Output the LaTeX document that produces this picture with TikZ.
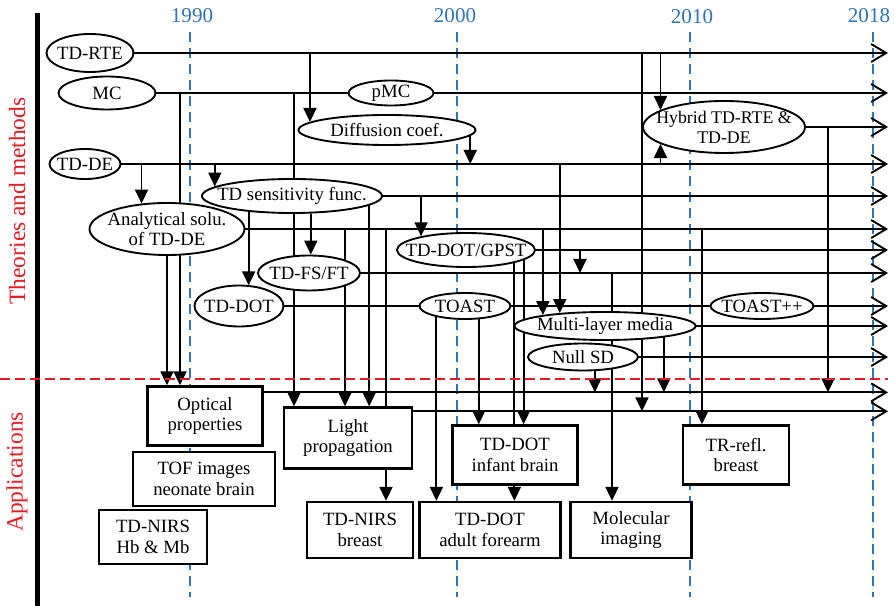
\documentclass[tikz,border=0pt]{standalone}
\usepackage{fontspec}
\setmainfont{Liberation Serif}
\usepackage{tikz}
\usetikzlibrary{arrows.meta,shapes.geometric,positioning}
\definecolor{yrblue}{RGB}{46,117,182}
\definecolor{thred}{RGB}{235,25,35}
\newcommand{\lblfont}{\fontsize{16}{17.5}\selectfont}
\pgfdeclarelayer{bg}
\pgfsetlayers{bg,main}
\tikzstyle{meth} = [ellipse, draw, fill=white, line width=1.6pt, inner xsep=-25mm, inner ysep=-10mm, align=center, font=\lblfont]
\tikzstyle{app} = [rectangle, draw, fill=white, line width=2pt, inner sep=1pt, align=center, font=\lblfont]
\tikzstyle{arr} = [line width=1.6pt, -{Triangle[length=4.2mm,width=3.9mm]}]
\tikzstyle{trend} = [line width=1.6pt, -{Straight Barb[length=4.5mm,width=5.4mm]}]
\tikzstyle{yline} = [yrblue, line width=1.1pt, dash pattern=on 3mm off 1.8mm]

\begin{document}
\begin{tikzpicture}[x=0.3mm, y=-0.3mm]
\useasboundingbox (0,0) rectangle (895,606);

% Time axis
\begin{pgfonlayer}{bg}
\foreach \x/\yr in {190/1990, 457/2000, 690/2010, 873/2018}
  \draw[yline] (\x,32) -- (\x,597);
\end{pgfonlayer}
\node[text=yrblue, font=\fontsize{18}{20}\selectfont] (yr1990) at (192,16) {1990};
\node[text=yrblue, font=\fontsize{18}{20}\selectfont] (yr2000) at (455,16) {2000};
\node[text=yrblue, font=\fontsize{18}{20}\selectfont] (yr2010) at (692,17) {2010};
\node[text=yrblue, font=\fontsize{18}{20}\selectfont] (yr2018) at (869,16) {2018};

% Side labels
\draw[line width=1.5mm] (37,13) -- (37,606);
\draw[thred, line width=1.3pt, dash pattern=on 3mm off 1.5mm] (0,379) -- (888,379);
\node[text=thred, rotate=90, font=\fontsize{20}{22}\selectfont] (theo) at (17,201) {Theories and methods};
\node[text=thred, rotate=90, font=\fontsize{20}{22}\selectfont] (appl) at (17,472) {Applications};

% Theories and methods
\node[meth, minimum width=26.1mm, minimum height=11.4mm] (rte) at (90,53) {TD-RTE};
\node[meth, minimum width=29.1mm, minimum height=9.9mm] (mc) at (107,93) {MC};
\node[meth, minimum width=25.5mm, minimum height=7.5mm] (pmc) at (391,93) {pMC};
\node[meth, minimum width=53.1mm, minimum height=9mm] (diff) at (387,130) {Diffusion coef.};
\node[meth, minimum width=48.6mm, minimum height=15.6mm, font=\fontsize{15.2}{17}\selectfont] (hyb) at (724,127) {Hybrid TD-RTE \&\\TD-DE};
\node[meth, minimum width=21.3mm, minimum height=9mm] (tdde) at (85,164) {TD-DE};
\node[meth, minimum width=54mm, minimum height=10.2mm] (sens) at (292,196) {TD sensitivity func.};
\node[meth, minimum width=46.5mm, minimum height=15.6mm] (anal) at (167,229) {Analytical solu.\\of TD-DE};
\node[meth, minimum width=41.4mm, minimum height=10.2mm] (gpst) at (466,250) {TD-DOT/GPST};
\node[meth, minimum width=30.6mm, minimum height=10.5mm] (fsft) at (309,273) {TD-FS/FT};
\node[meth, minimum width=26.7mm, minimum height=12.3mm] (tddot) at (239,306) {TD-DOT};
\node[meth, minimum width=27.3mm, minimum height=7.8mm] (toast) at (465,306) {TOAST};
\node[meth, minimum width=30.9mm, minimum height=7.8mm] (toastpp) at (762,306) {TOAST++};
\node[meth, minimum width=54.3mm, minimum height=8.4mm] (multi) at (605,326) {Multi-layer media};
\node[meth, minimum width=33mm, minimum height=8.1mm] (nullsd) at (583,357) {Null SD};

% Applications
\node[app, minimum width=34.5mm, minimum height=17.7mm] (optic) at (205,416) {Optical\\properties};
\node[app, minimum width=42.6mm, minimum height=16.2mm] (tof) at (204,479) {TOF images\\neonate brain};
\node[app, minimum width=32.4mm, minimum height=16.2mm] (hbmb) at (153,537) {TD-NIRS\\Hb \& Mb};
\node[app, minimum width=38.4mm, minimum height=18.3mm] (light) at (348,438) {Light\\propagation};
\node[app, minimum width=31.8mm, minimum height=16.8mm] (nirsb) at (360,530) {TD-NIRS\\breast};
\node[app, minimum width=37.5mm, minimum height=17.7mm] (infant) at (515,455) {TD-DOT\\infant brain};
\node[app, minimum width=42.3mm, minimum height=16.8mm] (adult) at (490,530) {TD-DOT\\adult forearm};
\node[app, minimum width=36.3mm, minimum height=16.8mm] (molec) at (631,530) {Molecular\\imaging};
\node[app, minimum width=31.8mm, minimum height=17.7mm] (trrefl) at (736,455) {TR-refl.\\breast};

% Trunks
\coordinate (rend) at (888,0);
\coordinate (optout) at ([yshift=-2.1mm]optic.north east);
\coordinate (ligout) at ([yshift=-1.5mm]light.north east);
\foreach \x in {180,294,345,386,580,612,642,702,828}
  \coordinate (v\x) at (\x,0);

\begin{pgfonlayer}{bg}
% lines to 2018
\foreach \n in {rte,mc,hyb,tdde,sens,anal,gpst,fsft,tddot,multi,nullsd}
  \draw[trend] (\n.east) -- (\n.east -| rend);
\draw[trend] (optout) -- (optout -| rend);
\draw[trend] (ligout) -- (ligout -| rend);

% links
\draw[arr] (diff.174 |- rte.east) -- (diff.174);
\draw[arr] (v180 |- mc.east) -- (v180 |- optic.north);
\draw[arr] (anal.south) -- (anal.south |- optic.north);
\draw[arr] (anal.135 |- tdde.east) -- (anal.135);
\draw[arr] (sens.173 |- tdde.east) -- (sens.173);
\draw[arr] (diff.356) -- (diff.356 |- tdde.east);
\draw[arr] (v294 |- mc.east) -- (v294 |- light.north);
\draw[arr] (sens.200) -- (sens.200 |- tddot.60);
\draw[arr] (sens.317) -- (sens.317 |- fsft.north);
\draw[arr] (sens.353) -- (sens.353 |- light.north);
\draw[arr] (gpst.163 |- sens.east) -- (gpst.163);
\draw[arr] (v345 |- anal.east) -- (v345 |- light.north);
\draw[arr] (v386 |- anal.east) -- (v386 |- nirsb.north);
\draw[arr] (multi.170 |- anal.east) -- (multi.170);
\draw[arr] (multi.164 |- tdde.east) -- (multi.164);
\draw[arr] (v580 |- gpst.east) -- (v580 |- fsft.east);
\draw[arr] (v612 |- fsft.east) -- (v612 |- molec.north);
\draw[arr] (v642 |- rte.east) -- (v642 |- ligout);
\draw[arr] (hyb.165 |- rte.east) -- (hyb.165);
\draw[arr] (hyb.195 |- tdde.east) -- (hyb.195);
\draw[arr] (v828 |- hyb.east) -- (v828 |- optout);
\draw[arr] (v702 |- anal.east) -- (v702 |- trrefl.north);
\draw[arr] (multi.349) -- (multi.349 |- optout);
\draw[arr] (nullsd.310) -- (nullsd.310 |- optout);
\draw[arr] (toast.201) -- (toast.201 |- adult.north);
\draw[arr] (toast.316) -- (toast.316 |- infant.north);
\draw[arr] (gpst.345) -- (gpst.345 |- adult.north);
\draw[arr] (gpst.350) -- (gpst.350 |- infant.north);
\end{pgfonlayer}
\end{tikzpicture}
\end{document}
